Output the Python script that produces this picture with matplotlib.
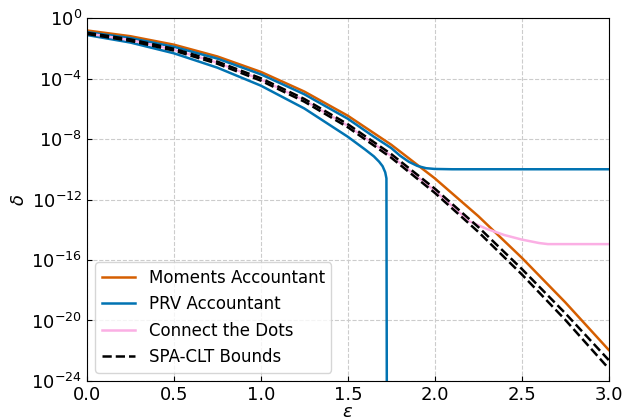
import numpy as np
import matplotlib
matplotlib.use("Agg")
import matplotlib.pyplot as plt
from matplotlib.ticker import NullLocator

# log10(delta), eps on a 0.25 grid
eps = [0.0, 0.25, 0.5, 0.75, 1.0, 1.25, 1.5, 1.75, 2.0, 2.25, 2.5, 2.75, 3.0]
moments_log = [-0.82, -1.20, -1.76, -2.54, -3.56, -4.86, -6.46, -8.38, -10.60, -13.10, -15.85, -18.80, -21.95]
spa_upper_log = [-0.97, -1.41, -2.03, -2.88, -3.98, -5.35, -7.02, -9.0, -11.28, -13.82, -16.59, -19.52, -22.62]
spa_lower_log = [-1.05, -1.51, -2.15, -3.02, -4.14, -5.53, -7.22, -9.24, -11.56, -14.14, -16.95, -19.96, -23.18]

# PRV accountant: upper bound flattens, lower bound collapses
prv_up_eps = [0.0, 0.25, 0.5, 0.75, 1.0, 1.25, 1.5, 1.65, 1.75, 1.8, 1.85, 1.9, 1.95, 2.0, 2.1, 3.0]
prv_up_log = [-0.93, -1.32, -1.9, -2.68, -3.72, -5.04, -6.66, -7.85, -8.6, -9.1, -9.5, -9.78, -9.93, -9.98, -10.0, -10.0]
prv_lo_eps = [0.0, 0.25, 0.5, 0.75, 1.0, 1.25, 1.5, 1.6, 1.65, 1.68, 1.7, 1.715, 1.722, 1.725]
prv_lo_log = [-1.12, -1.62, -2.33, -3.28, -4.47, -5.98, -7.85, -8.7, -9.15, -9.5, -9.8, -10.2, -10.6, -30.0]

# Connect the Dots
ctd_eps = [0.0, 0.25, 0.5, 0.75, 1.0, 1.25, 1.5, 1.75, 2.0, 2.2, 2.3, 2.4, 2.5, 2.6, 2.65, 3.0]
ctd_log = [-1.01, -1.46, -2.09, -2.95, -4.06, -5.44, -7.12, -9.12, -11.42, -13.45, -13.95, -14.35, -14.65, -14.88, -14.95, -14.95]

orange = "#d55e00"
blue = "#0173b2"
pink = "#fbafe4"

fig = plt.figure(figsize=(6.25, 4.2), dpi=100)
ax = fig.add_axes([0.139, 0.093, 0.835, 0.864])

ax.plot(eps, 10.0 ** np.array(moments_log), color=orange, lw=1.8, label="Moments Accountant")
ax.plot(prv_up_eps, 10.0 ** np.array(prv_up_log), color=blue, lw=1.8, label="PRV Accountant")
ax.plot(prv_lo_eps, 10.0 ** np.array(prv_lo_log), color=blue, lw=1.8)
ax.plot(ctd_eps, 10.0 ** np.array(ctd_log), color=pink, lw=1.8, label="Connect the Dots")
ax.plot(eps, 10.0 ** np.array(spa_upper_log), "k--", lw=1.8, label="SPA-CLT Bounds")
ax.plot(eps, 10.0 ** np.array(spa_lower_log), "k--", lw=1.8)

ax.set_yscale("log")
ax.set_xlim(0, 3)
ax.set_ylim(1e-24, 1)
ax.set_yticks([10.0 ** k for k in range(0, -25, -4)])
ax.yaxis.set_minor_locator(NullLocator())
ax.set_xticks([0.0, 0.5, 1.0, 1.5, 2.0, 2.5, 3.0])
ax.tick_params(direction="in", labelsize=13)
ax.grid(True, linestyle="--", color="#cccccc", lw=0.8)
ax.set_xlabel(r"$\varepsilon$", fontsize=13)
ax.xaxis.set_label_coords(0.5, -0.06)
ax.set_ylabel(r"$\delta$", fontsize=13, labelpad=2)
ax.legend(loc="lower left", fontsize=12)

fig.savefig("out.png", dpi=100)
